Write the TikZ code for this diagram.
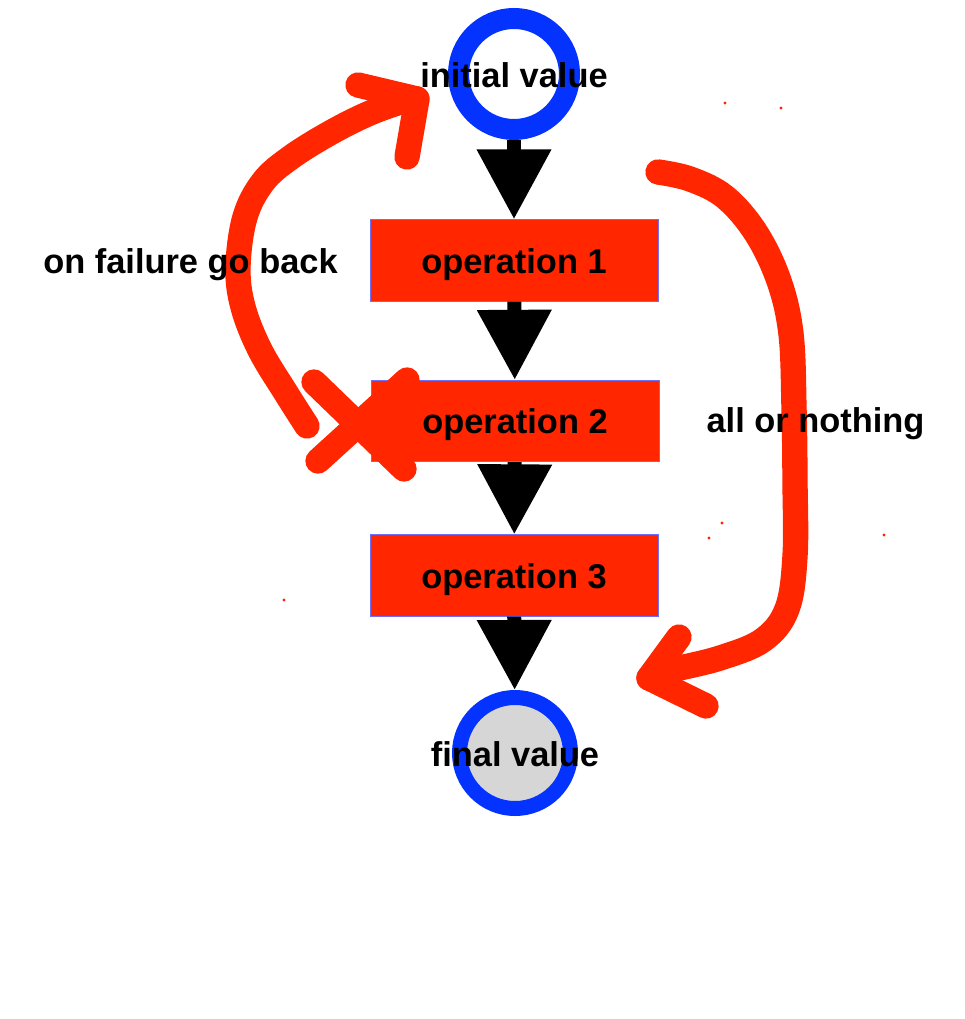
\documentclass[tikz,border=0pt]{standalone}
\usepackage{fontspec}
\setmainfont{Liberation Sans}
\usetikzlibrary{arrows.meta}
\definecolor{opred}{RGB}{255,38,0}
\definecolor{ringblue}{RGB}{4,51,255}
\definecolor{ringgray}{RGB}{214,214,214}
\definecolor{edgeblue}{RGB}{110,110,255}
\begin{document}
\begin{tikzpicture}[x=0.75pt,y=-0.75pt,
  opbox/.style={rectangle, fill=opred, draw=edgeblue, line width=0.75pt, minimum width=216pt, minimum height=61pt, inner sep=0pt},
  ring/.style={circle, draw=ringblue, inner sep=0pt, minimum size=83.25pt},
  lbl/.style={font=\fontsize{25.8}{30}\selectfont\bfseries, inner sep=0pt, text=black},
  flow/.style={draw=black, line width=10.5pt, -{Triangle[length=52.5pt,width=53.25pt]}},
  pen/.style={draw=opred, line width=19pt, line cap=round, line join=round}]
\useasboundingbox (0,0) rectangle (964,1019);
% nodes
\node[ring, line width=15.75pt, fill=white] (init) at (514,74) {};
\node[opbox] (op1) at (514,260.5) {};
\node[opbox] (op2) at (515,421) {};
\node[opbox] (op3) at (514,575.5) {};
\node[ring, line width=11.25pt, fill=ringgray] (final) at (515,753) {};
% flow connectors
\draw[flow] (init) -- (op1);
\draw[flow] (op1) -- (op2);
\draw[flow] (op2) -- (op3);
\draw[flow] (op3) -- (final);
% hand-drawn annotations
\coordinate (ltip) at (417,99);
\coordinate (rtip) at (649,678);
\draw[pen] plot[smooth, tension=0.6] coordinates {(307,426) (286,393) (260,350) (243,307) (238,267) (245,217) (263,182) (290,158) (330,133) (370,113) (407,100) (ltip)};
\draw[pen] (358,85) -- (ltip) -- (407,157);
\draw[pen] (314,382) -- (404,469);
\draw[pen] (318,461) -- (407,380);
\draw[pen] plot[smooth, tension=0.6] coordinates {(658,172) (690,179) (725,197) (756,233) (779,281) (791,334) (794,408) (795,482) (795,556) (787,609) (763,640) (720,658) (672,670) (rtip)};
\draw[pen] (679,637) -- (rtip) -- (706,706);
% stray dots
\foreach \p in {(725,103),(781,108),(722,523),(709,538),(884,535),(284,600)}
  \fill[opred] \p circle (1.6);
% labels
\node[lbl] (initlbl) at ([yshift=-1pt]init) {initial value};
\node[lbl] at ([yshift=-3pt]op1) {operation 1};
\node[lbl] at ([yshift=-3pt]op2) {operation 2};
\node[lbl] at ([yshift=-3pt]op3) {operation 3};
\node[lbl] (finallbl) at ([yshift=-1pt]final) {final value};
\node[lbl] (fail) at (190.5,265) {on failure go back};
\node[lbl] (aon) at (815.5,424) {all or nothing};
\end{tikzpicture}
\end{document}
